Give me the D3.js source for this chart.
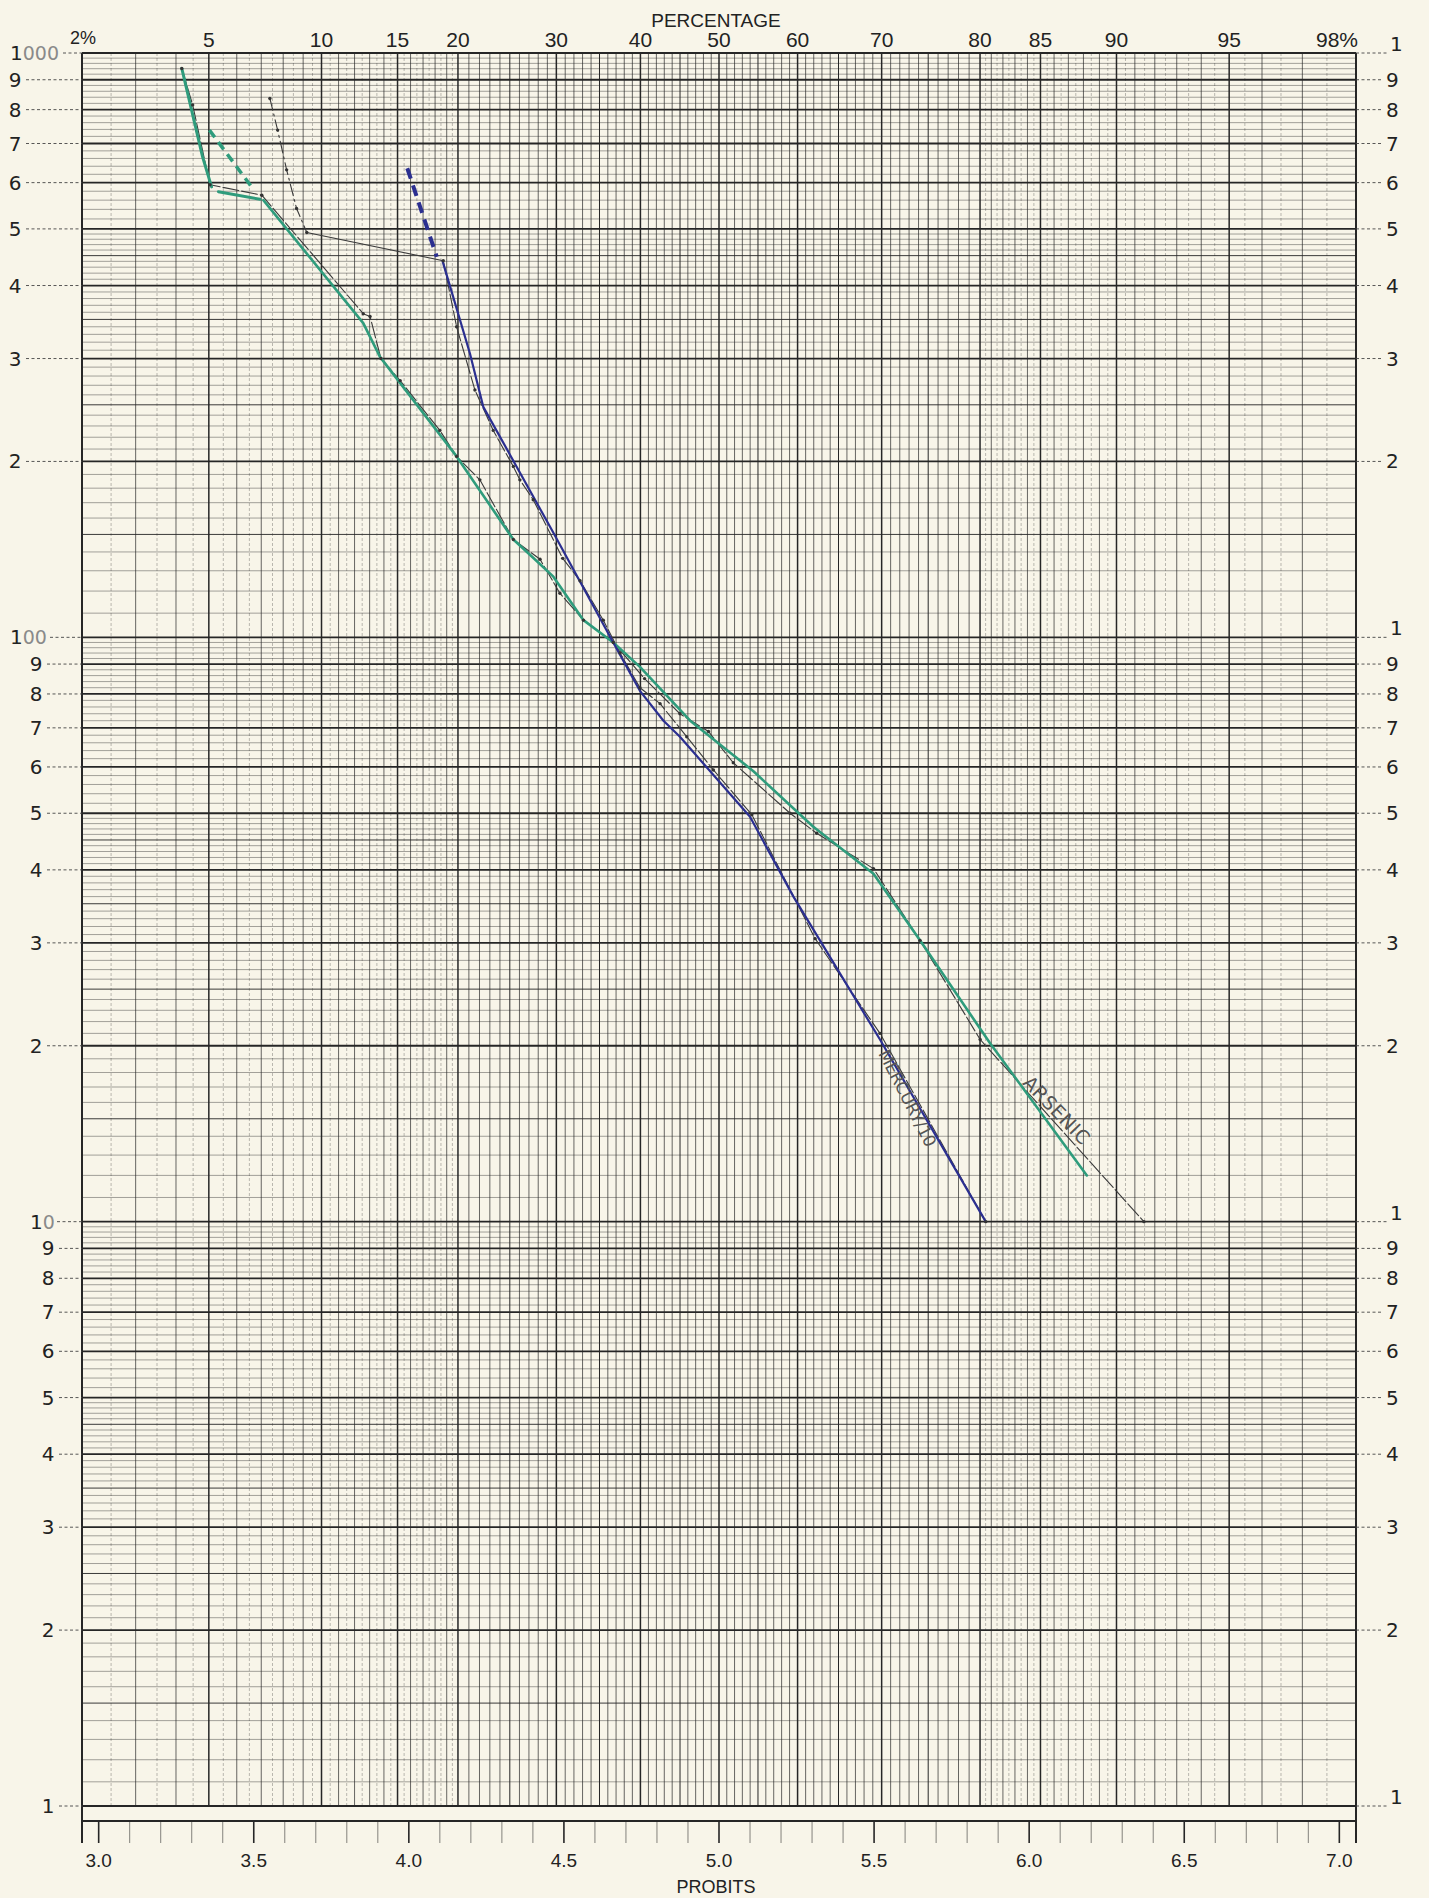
<!DOCTYPE html>
<html><head><meta charset="utf-8">
<script src="https://cdn.jsdelivr.net/npm/d3@7"></script>
<style>html,body{margin:0;padding:0;background:#f8f5e9;}svg{display:block;}</style>
</head><body><svg id="c" width="1429" height="1898"></svg>
<script>
// ---------- data (x = probit, y = value) ----------
const pctLabels = ["2%","5","10","15","20","30","40","50","60","70","80","85","90","95","98%"];
const pctValues = [2,5,10,15,20,30,40,50,60,70,80,85,90,95,98];
const probitLabels = ["3.0","3.5","4.0","4.5","5.0","5.5","6.0","6.5","7.0"];
const probitLabelValues = [3.0,3.5,4.0,4.5,5.0,5.5,6.0,6.5,7.0];
const leftLabels = ["1000","9","8","7","6","5","4","3","2","100","9","8","7","6","5","4","3","2","10","9","8","7","6","5","4","3","2","1"];
const leftValues = [1000,900,800,700,600,500,400,300,200,100,90,80,70,60,50,40,30,20,10,9,8,7,6,5,4,3,2,1];
const rightLabels = ["1","9","8","7","6","5","4","3","2","1","9","8","7","6","5","4","3","2","1","9","8","7","6","5","4","3","2","1"];

// Arsenic (green, drawn)
const arsenicGreenTop = [[3.268,941],[3.335,664],[3.364,590]];
const arsenicGreenShort = [[3.386,579],[3.52,562]];
const arsenicGreenDash = [[3.357,738],[3.493,590]];
const arsenicGreen = [[3.531,560],[3.853,345],[3.907,302],[4.154,204],[4.337,147],[4.40,137],[4.466,127],[4.563,107],[4.659,98],[4.745,89],[4.907,72],[5.111,59],[5.304,47.4],[5.498,39.4],[5.648,30.3],[5.874,20.2],[6.186,12]];
// Arsenic (black, plotted points)
const arsenicRaw = [[3.268,941],[3.303,815],[3.359,595],[3.526,571],[3.853,358],[3.875,354],[3.91,300],[3.972,275],[4.100,226],[4.154,204],[4.229,186],[4.337,147],[4.423,136],[4.487,119],[4.563,107],[4.659,98],[4.76,85],[4.874,74],[4.966,69],[5.046,61],[5.229,50],[5.315,46.2],[5.498,40.2],[5.648,30.3],[5.842,20.5],[6.37,10]];
// Mercury/10 (blue, drawn)
const mercuryBlueDash = [[3.995,635],[4.090,448]];
const mercuryBlue = [[4.109,440],[4.197,306],[4.240,248],[4.466,151],[4.659,98],[4.745,81],[4.821,72],[4.874,67.6],[5.100,49.3],[5.240,36],[5.519,20.5],[5.86,10]];
// Mercury/10 (black, plotted points)
const mercuryRawTop = [[3.552,836],[3.577,738],[3.606,631],[3.638,542],[3.671,493]];
const mercuryRawJoin = [[3.671,493],[4.111,441]];
const mercuryRaw = [[4.111,441],[4.154,340],[4.213,265],[4.272,226],[4.337,196],[4.358,186],[4.401,172],[4.496,136.5],[4.552,125],[4.627,107],[4.681,94],[4.745,82],[4.810,77],[4.896,67.6],[4.982,59.3],[5.106,49.7],[5.310,30.5],[5.519,21],[5.86,10]];

// ---------- helpers ----------
function qnorm(p){
  const a=[-3.969683028665376e+01,2.209460984245205e+02,-2.759285104469687e+02,1.383577518672690e+02,-3.066479806614716e+01,2.506628277459239e+00];
  const b=[-5.447609879822406e+01,1.615858368580409e+02,-1.556989798598866e+02,6.680131188771972e+01,-1.328068155288572e+01];
  const c=[-7.784894002430293e-03,-3.223964580411365e-01,-2.400758277161838e+00,-2.549732539343734e+00,4.374664141464968e+00,2.938163982698783e+00];
  const d=[7.784695709041462e-03,3.224671290700398e-01,2.445134137142996e+00,3.754408661907416e+00];
  const plow=0.02425, phigh=1-plow; let q,r;
  if(p<plow){q=Math.sqrt(-2*Math.log(p));return (((((c[0]*q+c[1])*q+c[2])*q+c[3])*q+c[4])*q+c[5])/((((d[0]*q+d[1])*q+d[2])*q+d[3])*q+1);}
  if(p<=phigh){q=p-0.5;r=q*q;return (((((a[0]*r+a[1])*r+a[2])*r+a[3])*r+a[4])*r+a[5])*q/(((((b[0]*r+b[1])*r+b[2])*r+b[3])*r+b[4])*r+1);}
  q=Math.sqrt(-2*Math.log(1-p));return -(((((c[0]*q+c[1])*q+c[2])*q+c[3])*q+c[4])*q+c[5])/((((d[0]*q+d[1])*q+d[2])*q+d[3])*q+1);
}
const probit = pct => 5 + qnorm(pct/100);

// ---------- layout ----------
const L=82, R=1356, T=53, B1=1806, BB=1821, TK=1843;
const x = d3.scaleLinear().domain([probit(2), probit(98)]).range([L,R]);
const y = d3.scaleLog().domain([1,1000]).range([B1,T]);
const svg = d3.select("#c");
svg.append("rect").attr("width",1429).attr("height",1898).attr("fill","#f8f5e9");

const ink="#262626";
const g = svg.append("g");

// horizontal grid
const hLines=[];
[1,10,100].forEach(dec=>{
  for(let i=10;i<100;i+= (i<50?1:2)){ hLines.push({v:dec*i/10, m:i}); }
});
hLines.push({v:1000,m:10});
g.selectAll("line.h").data(hLines).join("line")
  .attr("x1",L).attr("x2",R).attr("y1",d=>y(d.v)).attr("y2",d=>y(d.v))
  .attr("stroke",ink)
  .attr("stroke-width",d=> d.m%10===0?1.8:(d.m%5===0?1.0:0.55))
  .attr("stroke-opacity",d=> d.m%10===0?1:(d.m%5===0?0.9:0.75));

// vertical grid
const vP=[];
for(let p=2;p<10;p+=0.5) vP.push(p);
for(let p=10;p<20;p+=0.5) vP.push(p);
for(let p=20;p<=80;p+=1) vP.push(p);
for(let p=80.5;p<90;p+=0.5) vP.push(p);
for(let p=90;p<=98;p+=0.5) vP.push(p);
const heavy=new Set([5,10,15,20,30,40,50,60,70,80,85,90,95]);
g.selectAll("line.v").data(vP).join("line")
  .attr("x1",d=>x(probit(d))).attr("x2",d=>x(probit(d)))
  .attr("y1",T).attr("y2",B1)
  .attr("stroke",ink)
  .attr("stroke-width",d=> heavy.has(d)?1.5:(Number.isInteger(d)?(d%5===0?1.0:0.7):0.5))
  .attr("stroke-opacity",d=> Number.isInteger(d)?1:0.6)
  .attr("stroke-dasharray",d=> Number.isInteger(d)?null:"3,2");

// borders
g.append("line").attr("x1",L).attr("x2",L).attr("y1",T).attr("y2",TK).attr("stroke",ink).attr("stroke-width",2);
g.append("line").attr("x1",R).attr("x2",R).attr("y1",T).attr("y2",TK).attr("stroke",ink).attr("stroke-width",2);
g.append("line").attr("x1",L).attr("x2",R).attr("y1",T).attr("y2",T).attr("stroke",ink).attr("stroke-width",2);
g.append("line").attr("x1",L).attr("x2",R).attr("y1",BB).attr("y2",BB).attr("stroke",ink).attr("stroke-width",2);

// probit ticks
const pt=d3.range(30,71).map(d=>d/10);
g.selectAll("line.pt").data(pt).join("line")
  .attr("x1",d=>x(d)).attr("x2",d=>x(d)).attr("y1",BB).attr("y2",TK)
  .attr("stroke",ink).attr("stroke-width",d=> (Math.round(d*10)%5===0)?1.6:0.8)
  .attr("stroke-opacity",d=> (Math.round(d*10)%5===0)?1:0.7);

// axis texts
const fTop="'Liberation Sans Narrow','Liberation Sans',sans-serif";
svg.append("text").attr("x",716).attr("y",27).attr("text-anchor","middle")
  .attr("font-family",fTop).attr("font-size",19).attr("fill","#222").text("PERCENTAGE");
svg.selectAll("text.pct").data(pctValues).join("text")
  .attr("x",(d,i)=> i===0?L-12:(i===pctValues.length-1?R+2:x(probit(d))))
  .attr("y",(d,i)=> i===0?44:47)
  .attr("text-anchor",(d,i)=> i===0?"start":(i===pctValues.length-1?"end":"middle"))
  .attr("font-family",fTop).attr("font-size",(d,i)=> (i===0)?18:21).attr("fill","#222")
  .text((d,i)=>pctLabels[i]);
svg.selectAll("text.pb").data(probitLabelValues).join("text")
  .attr("x",d=>x(d)).attr("y",1867).attr("text-anchor","middle")
  .attr("font-family",fTop).attr("font-size",19).attr("fill","#222")
  .text((d,i)=>probitLabels[i]);
svg.append("text").attr("x",716).attr("y",1893).attr("text-anchor","middle")
  .attr("font-family",fTop).attr("font-size",18).attr("fill","#222").text("PROBITS");

// left labels with dashed leaders
const fNum="'DejaVu Sans',sans-serif";
const leftX = v => v>=100 ? 15 : (v>=10 ? 36 : 48);
leftValues.forEach((v,i)=>{
  const yy=y(v);
  const lab=leftLabels[i];
  const t=svg.append("text").attr("y",yy+7).attr("font-family",fNum).attr("font-size",20).attr("fill","#222");
  let endX;
  if(lab==="1000"||lab==="100"||lab==="10"){
    const sx = lab==="10"?30:10;
    t.attr("x",sx).attr("text-anchor","start");
    t.append("tspan").text("1");
    t.append("tspan").attr("fill","#8a8a8a").attr("font-size",19).text(lab.slice(1));
    endX = sx + 12 + 13*(lab.length-1);
  } else {
    t.attr("x",leftX(v)).attr("text-anchor","middle").text(lab);
    endX = leftX(v)+9;
  }
  if(endX < L-3){
    svg.append("line").attr("x1",endX+2).attr("x2",L).attr("y1",yy).attr("y2",yy)
      .attr("stroke","#444").attr("stroke-width",0.9).attr("stroke-dasharray","3,2.5");
  }
});
// right labels
leftValues.forEach((v,i)=>{
  const yy=y(v);
  const isDec = rightLabels[i]==="1";
  const lx = isDec ? 1390 : 1386;
  svg.append("line").attr("x1",R).attr("x2",lx-3).attr("y1",yy).attr("y2",yy)
    .attr("stroke","#444").attr("stroke-width",0.9).attr("stroke-dasharray","3,2.5");
  svg.append("text").attr("x",lx).attr("y",yy+(isDec?-2:7)).attr("font-family",fNum)
    .attr("font-size",20).attr("fill","#222").text(rightLabels[i]);
});

// ---------- series ----------
const line = d3.line().x(d=>x(d[0])).y(d=>y(d[1]));
const green="#2f9c7c", blue="#2b2f90", raw="#3a3a3a";
const S = svg.append("g").attr("fill","none").attr("stroke-linejoin","round").attr("stroke-linecap","round");

// black raw lines
S.append("path").attr("d",line(arsenicRaw)).attr("stroke",raw).attr("stroke-width",1.1).attr("stroke-dasharray","16,3");
S.append("path").attr("d",line(mercuryRawTop)).attr("stroke",raw).attr("stroke-width",1.1).attr("stroke-dasharray","12,4,2,4");
S.append("path").attr("d",line(mercuryRawJoin)).attr("stroke",raw).attr("stroke-width",1.1);
S.append("path").attr("d",line(mercuryRaw)).attr("stroke",raw).attr("stroke-width",1.1).attr("stroke-dasharray","14,3");

// green
S.append("path").attr("d",line(arsenicGreenTop)).attr("stroke",green).attr("stroke-width",3);
S.append("path").attr("d",line(arsenicGreenShort)).attr("stroke",green).attr("stroke-width",3);
S.append("path").attr("d",line(arsenicGreenDash)).attr("stroke",green).attr("stroke-width",3.5).attr("stroke-dasharray","9,6").attr("stroke-linecap","butt");
S.append("path").attr("d",line(arsenicGreen)).attr("stroke",green).attr("stroke-width",2.6);
// blue
S.append("path").attr("d",line(mercuryBlueDash)).attr("stroke",blue).attr("stroke-width",4).attr("stroke-dasharray","11,7").attr("stroke-linecap","butt");
S.append("path").attr("d",line(mercuryBlue)).attr("stroke",blue).attr("stroke-width",2.2);

// dots at plotted points
const dots = arsenicRaw.concat(mercuryRawTop, mercuryRaw);
svg.selectAll("circle.pt").data(dots).join("circle")
  .attr("cx",d=>x(d[0])).attr("cy",d=>y(d[1])).attr("r",1.7).attr("fill","#333");

// handwritten labels
const hand="'DejaVu Sans',sans-serif";
svg.append("text").attr("transform",`translate(${x(5.50)+4},${y(20.5)+14}) rotate(63)`)
  .attr("font-family",hand).attr("font-size",17).attr("fill","#555").attr("letter-spacing",-0.3).text("MERCURY/10");
svg.append("text").attr("transform",`translate(${x(5.95)+8},${y(17.5)+4}) rotate(46)`)
  .attr("font-family",hand).attr("font-size",19).attr("fill","#555").attr("letter-spacing",0.5).text("ARSENIC");
</script></body></html>
